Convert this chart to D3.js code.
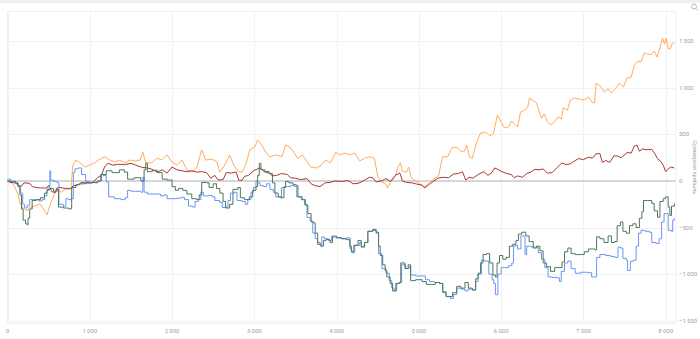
<!DOCTYPE html>
<html><head><meta charset="utf-8">
<script src="https://cdn.jsdelivr.net/npm/d3@7"></script>
<style>
html,body{margin:0;padding:0;background:#fff;overflow:hidden}
svg{display:block;font-family:Roboto,"Open Sans",sans-serif}
</style></head>
<body>
<svg id="c" width="700" height="339"></svg>
<script>
const xTicks = [0,1000,2000,3000,4000,5000,6000,7000,8000];
const yTicks = [-1500,-1000,-500,0,500,1000,1500];
const yTitle = "Суммарная прибыль";

const orange = [[0,0],[30,-10],[80,-45],[130,-150],[150,-235],[190,-290],[240,-320],[270,-280],[330,-270],[395,-245],[430,-290],[480,-365],[515,-260],[565,-150],[615,-95],[660,-120],[720,-75],[770,-85],[795,170],[830,225],[880,195],[940,150],[1000,170],[1060,195],[1125,235],[1185,260],[1245,225],[1305,205],[1365,225],[1425,195],[1490,225],[1550,215],[1610,225],[1645,310],[1680,195],[1755,195],[1815,245],[1875,225],[1935,280],[2000,205],[2060,170],[2120,225],[2180,120],[2240,95],[2300,140],[2360,335],[2410,225],[2485,235],[2545,205],[2580,95],[2640,170],[2700,280],[2750,170],[2800,105],[2850,95],[2895,170],[2945,335],[3005,365],[3040,440],[3090,385],[3140,310],[3185,260],[3260,280],[3335,260],[3380,385],[3430,365],[3480,310],[3525,245],[3585,280],[3635,215],[3685,150],[3745,140],[3805,160],[3865,225],[3925,195],[3990,310],[4040,280],[4100,300],[4160,280],[4220,300],[4280,215],[4340,245],[4400,260],[4460,245],[4500,45],[4545,-10],[4595,-30],[4620,-75],[4670,20],[4715,55],[4740,140],[4775,195],[4800,105],[4850,95],[4875,150],[4910,30],[4960,0],[5010,-30],[5070,-65],[5120,-20],[5180,20],[5240,55],[5265,170],[5290,260],[5350,260],[5400,355],[5460,365],[5505,320],[5555,320],[5580,385],[5615,260],[5650,245],[5700,410],[5750,515],[5810,525],[5860,485],[5905,505],[5955,710],[6005,625],[6040,570],[6090,580],[6125,645],[6160,610],[6200,580],[6235,740],[6285,760],[6320,785],[6345,890],[6395,860],[6430,840],[6455,760],[6490,675],[6525,720],[6560,635],[6610,600],[6645,635],[6695,690],[6730,665],[6755,785],[6805,760],[6840,870],[6890,890],[6950,880],[7010,870],[7060,900],[7110,840],[7135,840],[7155,1050],[7205,1020],[7255,955],[7300,990],[7340,945],[7385,990],[7435,1050],[7485,1010],[7530,1105],[7580,1115],[7620,1245],[7665,1290],[7700,1280],[7740,1375],[7775,1365],[7825,1355],[7860,1395],[7895,1330],[7935,1440],[7960,1535],[7985,1470],[8005,1535],[8030,1420],[8055,1420],[8080,1480],[8105,1480]];

const red = [[0,0],[30,-15],[100,-20],[130,-50],[170,-55],[200,-20],[270,-25],[300,-60],[350,-70],[400,-75],[480,-75],[500,-45],[540,-115],[580,-125],[600,-75],[640,-70],[700,-80],[760,-85],[800,-50],[850,-45],[900,-15],[950,-20],[1030,-20],[1100,40],[1140,60],[1180,150],[1220,190],[1280,170],[1350,180],[1420,175],[1500,190],[1560,170],[1640,145],[1700,140],[1760,125],[1820,95],[1880,120],[1940,85],[2000,150],[2060,120],[2120,110],[2180,100],[2240,110],[2300,95],[2360,100],[2420,90],[2470,30],[2520,60],[2560,10],[2620,15],[2660,90],[2720,85],[2780,95],[2810,10],[2850,5],[2880,50],[2930,60],[2990,110],[3040,130],[3070,140],[3120,100],[3180,85],[3220,55],[3270,60],[3330,80],[3400,70],[3440,35],[3500,30],[3560,15],[3640,25],[3690,-30],[3740,-50],[3800,-60],[3860,-20],[3920,-15],[3980,0],[4060,-5],[4140,5],[4200,-30],[4260,-25],[4300,-10],[4340,10],[4400,40],[4440,35],[4480,-10],[4540,0],[4600,25],[4660,-5],[4720,65],[4770,85],[4800,0],[4850,-15],[4920,-20],[4980,-35],[5040,-45],[5070,-75],[5120,-40],[5180,0],[5230,30],[5300,40],[5360,35],[5420,75],[5480,80],[5530,100],[5570,10],[5610,40],[5660,30],[5720,70],[5790,100],[5840,60],[5890,95],[5920,140],[5960,125],[6010,100],[6070,80],[6120,70],[6160,35],[6200,55],[6260,40],[6310,80],[6360,95],[6410,125],[6460,120],[6510,130],[6560,85],[6620,90],[6680,145],[6740,195],[6790,175],[6840,185],[6890,215],[6940,240],[7000,230],[7060,255],[7110,245],[7150,290],[7200,295],[7230,200],[7270,220],[7320,200],[7370,270],[7410,270],[7460,250],[7530,305],[7580,300],[7620,375],[7650,385],[7680,320],[7720,345],[7760,335],[7830,340],[7870,290],[7900,240],[7940,210],[7970,170],[8000,100],[8020,120],[8060,150],[8105,140]];

const green = [[0,0],[30,-10],[100,-25],[130,-60],[150,-150],[170,-300],[190,-420],[220,-460],[240,-470],[250,-400],[270,-300],[300,-210],[350,-200],[400,-180],[450,-130],[480,-90],[520,-80],[560,-110],[600,-90],[620,-280],[680,-290],[740,-300],[780,-70],[830,-40],[880,-30],[950,-20],[1030,-15],[1100,0],[1140,70],[1200,110],[1270,90],[1360,120],[1420,95],[1460,20],[1540,35],[1620,0],[1660,120],[1680,190],[1700,100],[1760,115],[1820,90],[1880,20],[1940,10],[2000,-60],[2040,-100],[2080,-80],[2130,-100],[2180,-140],[2240,-190],[2300,-200],[2330,-150],[2360,-15],[2420,-20],[2450,-70],[2500,-30],[2540,-80],[2580,-130],[2620,-220],[2650,-290],[2700,-250],[2740,-90],[2800,-70],[2830,-180],[2880,-200],[2940,-170],[2980,-100],[3020,-60],[3040,60],[3060,190],[3080,120],[3130,100],[3180,80],[3220,-20],[3250,-130],[3290,-170],[3330,-180],[3360,-70],[3380,-5],[3420,-20],[3470,-40],[3510,-50],[3530,-170],[3580,-200],[3620,-260],[3650,-350],[3690,-440],[3720,-450],[3740,-560],[3770,-680],[3810,-700],[3840,-640],[3870,-630],[3920,-660],[3950,-600],[4000,-610],[4060,-620],[4120,-630],[4160,-700],[4180,-760],[4210,-690],[4260,-640],[4300,-710],[4340,-660],[4380,-540],[4440,-520],[4480,-550],[4510,-700],[4530,-800],[4560,-900],[4590,-960],[4610,-1030],[4650,-1100],[4680,-1180],[4720,-1100],[4760,-1090],[4780,-880],[4830,-940],[4870,-900],[4900,-1070],[4960,-1060],[5040,-1080],[5090,-1110],[5140,-1110],[5200,-1090],[5250,-1100],[5290,-1190],[5330,-1240],[5370,-1240],[5410,-1200],[5460,-1130],[5510,-1150],[5560,-1090],[5600,-1150],[5650,-1170],[5690,-1050],[5720,-990],[5750,-880],[5780,-790],[5820,-780],[5860,-880],[5900,-1010],[5930,-1030],[5950,-880],[5980,-800],[6020,-840],[6060,-820],[6100,-700],[6140,-680],[6180,-640],[6210,-570],[6250,-550],[6300,-590],[6340,-650],[6390,-720],[6430,-700],[6470,-750],[6510,-880],[6550,-920],[6600,-970],[6650,-930],[6700,-930],[6740,-870],[6770,-760],[6810,-720],[6850,-780],[6900,-790],[6960,-790],[7010,-760],[7060,-730],[7110,-730],[7140,-740],[7160,-600],[7200,-620],[7250,-660],[7300,-590],[7340,-660],[7380,-650],[7410,-480],[7450,-440],[7480,-540],[7520,-560],[7560,-480],[7600,-460],[7640,-500],[7680,-400],[7710,-330],[7730,-210],[7780,-210],[7830,-240],[7860,-320],[7900,-390],[7930,-220],[7970,-190],[8000,-170],[8030,-280],[8050,-370],[8070,-270],[8105,-240]];

const blue = [[0,20],[40,0],[100,-20],[130,-60],[160,-130],[185,-250],[210,-290],[240,-260],[270,-200],[320,-200],[380,-215],[420,-200],[450,-160],[480,-100],[505,-60],[515,110],[525,10],[560,-5],[600,-15],[615,-20],[625,-250],[680,-270],[710,-190],[740,-200],[780,-190],[800,90],[820,130],[860,140],[900,70],[950,-5],[1000,-15],[1060,-20],[1090,0],[1130,70],[1160,60],[1200,-10],[1230,-170],[1300,-190],[1380,-200],[1430,-180],[1460,-100],[1500,-110],[1560,-110],[1620,-120],[1645,40],[1660,-120],[1700,-140],[1780,-140],[1860,-160],[1900,-150],[1940,-190],[2000,-190],[2060,-185],[2110,-175],[2150,-200],[2200,-270],[2250,-280],[2280,-220],[2320,-200],[2350,-120],[2380,-160],[2440,-155],[2490,-170],[2520,-210],[2580,-230],[2610,-285],[2650,-280],[2680,-210],[2710,-130],[2760,-120],[2790,-210],[2850,-220],[2890,-250],[2920,-200],[2960,-120],[2990,-70],[3020,0],[3040,-20],[3070,-50],[3110,-60],[3150,-30],[3190,-90],[3230,-120],[3260,-170],[3310,-180],[3330,-70],[3360,-60],[3400,-60],[3440,-50],[3490,-60],[3515,-170],[3570,-200],[3610,-250],[3640,-390],[3680,-430],[3710,-560],[3740,-620],[3770,-660],[3800,-690],[3820,-600],[3850,-620],[3900,-640],[3940,-590],[4000,-610],[4060,-620],[4120,-610],[4165,-730],[4185,-770],[4220,-690],[4280,-660],[4300,-700],[4340,-660],[4380,-540],[4440,-530],[4480,-560],[4510,-780],[4550,-940],[4600,-990],[4640,-1070],[4670,-1150],[4700,-1180],[4730,-1100],[4770,-1090],[4790,-900],[4840,-940],[4880,-920],[4900,-1010],[4960,-1020],[5040,-1020],[5080,-1060],[5130,-1080],[5190,-1090],[5250,-1100],[5290,-1200],[5330,-1240],[5380,-1260],[5420,-1220],[5460,-1150],[5510,-1160],[5560,-1180],[5600,-1160],[5650,-1170],[5690,-1080],[5720,-1000],[5760,-850],[5800,-860],[5850,-1000],[5890,-1060],[5910,-1100],[5930,-1220],[5960,-1000],[6000,-930],[6040,-930],[6090,-910],[6130,-880],[6150,-700],[6170,-690],[6200,-730],[6240,-590],[6280,-600],[6290,-790],[6310,-700],[6370,-710],[6420,-710],[6450,-770],[6490,-840],[6530,-930],[6570,-1030],[6620,-1035],[6680,-1040],[6710,-1080],[6730,-970],[6770,-880],[6810,-860],[6850,-940],[6900,-990],[6970,-980],[7050,-985],[7100,-1030],[7140,-1030],[7160,-820],[7200,-790],[7270,-800],[7330,-810],[7380,-820],[7420,-710],[7450,-720],[7480,-830],[7520,-850],[7535,-960],[7570,-860],[7610,-850],[7640,-700],[7670,-560],[7700,-530],[7750,-540],[7800,-550],[7830,-660],[7880,-670],[7920,-620],[7950,-440],[7980,-350],[8010,-350],[8030,-530],[8070,-540],[8085,-420],[8105,-400]];

const seriesList = [
  {name:"orange", data:orange, color:"#ffac5c", step:false},
  {name:"red", data:red, color:"#a83636", step:false},
  {name:"blue", data:blue, color:"#6a96f2", step:true},
  {name:"green", data:green, color:"#4e765c", step:true}
];

const svg = d3.select("#c");
const L = 7.5, R = 676, T = 11.5, B = 323.3;
const x = d3.scaleLinear().domain([0, 8125]).range([L, R]);
const y = d3.scaleLinear().domain([-1528, 1820]).range([B, T]);
const fmt = v => d3.format(",")(v).replace(/,/g, "\u2009");

svg.append("rect").attr("x",0).attr("y",0).attr("width",700).attr("height",3).attr("fill","#efefef");

const g = svg.append("g");
g.selectAll(".vg").data(xTicks).join("line")
  .attr("x1",d=>Math.round(x(d))+0.5).attr("x2",d=>Math.round(x(d))+0.5)
  .attr("y1",T).attr("y2",B).attr("stroke","#f1f1f1").attr("stroke-width",1);
g.selectAll(".hg").data(yTicks).join("line")
  .attr("x1",L).attr("x2",R)
  .attr("y1",d=>Math.round(y(d))+0.5).attr("y2",d=>Math.round(y(d))+0.5)
  .attr("stroke","#f1f1f1").attr("stroke-width",1);
g.append("rect").attr("x",L).attr("y",T).attr("width",R-L).attr("height",B-T)
  .attr("fill","none").attr("stroke","#f1f1f1");

g.append("line").attr("x1",L).attr("x2",R).attr("y1",y(0)).attr("y2",y(0))
  .attr("stroke","#d6d6d6").attr("stroke-width",2);

svg.append("g").selectAll("text").data(xTicks).join("text")
  .attr("x",d=>x(d)).attr("y",333).attr("text-anchor","middle")
  .attr("font-size",6).attr("fill","#a0a0a0").text(fmt);
svg.append("g").selectAll("text").data(yTicks).join("text")
  .attr("x",679).attr("y",d=>y(d)+2).attr("text-anchor","start")
  .attr("font-size",6).attr("fill","#a0a0a0").text(fmt);
svg.append("text").attr("transform",`translate(693,${(T+B)/2}) rotate(90)`)
  .attr("text-anchor","middle").attr("font-size",5.5).attr("fill","#a0a0a0").text(yTitle);

const ic = svg.append("g").attr("stroke","#b5b5b5").attr("fill","none").attr("stroke-width",1);
ic.append("circle").attr("cx",694).attr("cy",6.5).attr("r",2.5);
ic.append("line").attr("x1",696).attr("y1",8.5).attr("x2",698).attr("y2",10.5);

const lineLin = d3.line().x(d=>x(d[0])).y(d=>y(d[1]));
const lineStep = d3.line().curve(d3.curveStepAfter).x(d=>x(d[0])).y(d=>y(d[1]));
svg.append("g").selectAll("path").data(seriesList).join("path")
  .attr("d",d=>(d.step ? lineStep : lineLin)(d.data)).attr("fill","none")
  .attr("stroke",d=>d.color).attr("stroke-width",1).attr("stroke-linejoin","round");
</script>
</body></html>
